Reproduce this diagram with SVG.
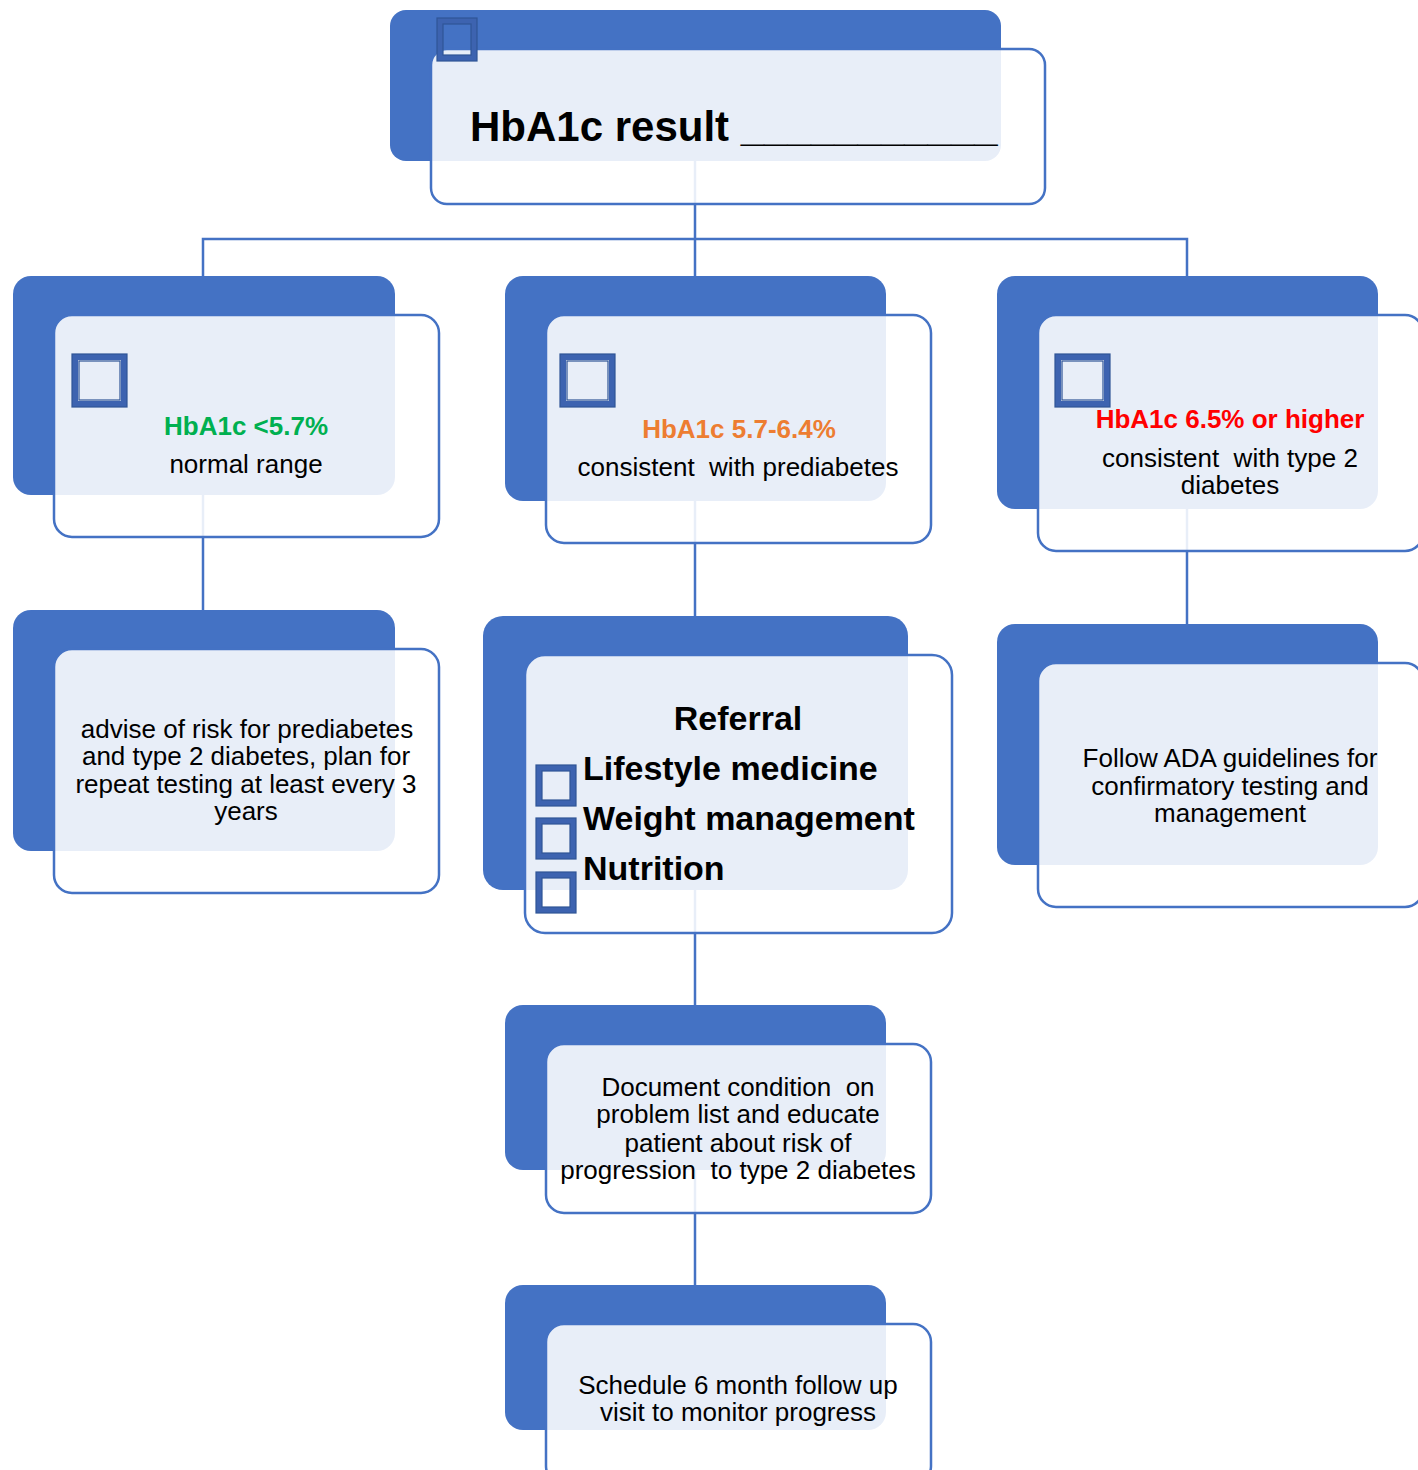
<svg xmlns="http://www.w3.org/2000/svg" width="1418" height="1470" viewBox="0 0 1418 1470">
<style>
.back{fill:#4472C4}
.front{fill:#FFFFFF;fill-opacity:0.88;stroke:#4472C4;stroke-width:2.5}
.conn{stroke:#4472C4;stroke-width:2.5;fill:none}
.cb{fill:none;stroke:#3D63B0;stroke-width:6}
.cbi{fill:none;stroke:#2F5597;stroke-width:1.2}
.t{font-family:"Liberation Sans",Arial,sans-serif;font-size:26px;fill:#000;text-anchor:middle;white-space:pre}
.b{font-weight:bold}
.big{font-family:"Liberation Sans",Arial,sans-serif;font-size:34px;font-weight:bold;fill:#000}
</style>
<rect width="1418" height="1470" fill="#FFFFFF"/>
<g id="connectors">
<path class="conn" d="M695 150V239M203 276V239H1187V276M695 239V276"/>
<path class="conn" d="M203 490V615"/>
<path class="conn" d="M695 495V620"/>
<path class="conn" d="M695 885V1010"/>
<path class="conn" d="M695 1165V1290"/>
<path class="conn" d="M1187 505V630"/>
</g>
<g id="node-top">
<rect class="back" x="390" y="10" width="611" height="151" rx="16"/>
<rect class="front" x="431" y="49" width="614" height="155" rx="16"/>
<rect class="cb" x="440" y="21" width="34" height="37"/>
<rect class="cbi" x="443" y="24" width="28" height="31"/>
<rect class="cbi" x="437" y="18" width="40" height="43"/>
<text class="t b" x="470" y="141" style="font-size:42px;text-anchor:start">HbA1c result ___________</text>
</g>
<g id="node-normal">
<rect class="back" x="13" y="276" width="382" height="219" rx="18"/>
<rect class="front" x="54" y="315" width="385" height="222" rx="18"/>
<rect class="cb" x="75" y="357" width="49" height="47"/>
<rect class="cbi" x="79" y="361" width="41" height="39"/>
<rect class="cbi" x="72" y="354" width="55" height="53"/>
<text class="t b" x="246" y="435" fill="#00B050" style="fill:#00B050">HbA1c &lt;5.7%</text>
<text class="t" x="246" y="473">normal range</text>
</g>
<g id="node-prediabetes">
<rect class="back" x="505" y="276" width="381" height="225" rx="18"/>
<rect class="front" x="546" y="315" width="385" height="228" rx="18"/>
<rect class="cb" x="563" y="357" width="49" height="47"/>
<rect class="cbi" x="567" y="361" width="41" height="39"/>
<rect class="cbi" x="560" y="354" width="55" height="53"/>
<text class="t b" x="739" y="438" style="fill:#ED7D31">HbA1c 5.7-6.4%</text>
<text class="t" x="738" y="476">consistent  with prediabetes</text>
</g>
<g id="node-diabetes">
<rect class="back" x="997" y="276" width="381" height="233" rx="18"/>
<rect class="front" x="1038" y="315" width="385" height="236" rx="18"/>
<rect class="cb" x="1058" y="357" width="49" height="47"/>
<rect class="cbi" x="1062" y="361" width="41" height="39"/>
<rect class="cbi" x="1055" y="354" width="55" height="53"/>
<text class="t b" x="1230" y="428" style="fill:#FF0000">HbA1c 6.5% or higher</text>
<text class="t" x="1230" y="467">consistent  with type 2</text>
<text class="t" x="1230" y="494">diabetes</text>
</g>
<g id="node-advise">
<rect class="back" x="13" y="610" width="382" height="241" rx="18"/>
<rect class="front" x="54" y="649" width="385" height="244" rx="18"/>
<text class="t" x="247" y="738">advise of risk for prediabetes</text>
<text class="t" x="246" y="765">and type 2 diabetes, plan for</text>
<text class="t" x="246" y="793">repeat testing at least every 3</text>
<text class="t" x="246" y="820">years</text>
</g>
<g id="node-referral">
<rect class="back" x="483" y="616" width="425" height="274" rx="20"/>
<rect class="front" x="525" y="655" width="427" height="278" rx="20"/>
<rect class="cb" x="539" y="768" width="34" height="35"/>
<rect class="cbi" x="542" y="771" width="28" height="29"/>
<rect class="cbi" x="536" y="765" width="40" height="41"/>
<rect class="cb" x="539" y="821" width="34" height="35"/>
<rect class="cbi" x="542" y="824" width="28" height="29"/>
<rect class="cbi" x="536" y="818" width="40" height="41"/>
<rect class="cb" x="539" y="875" width="34" height="35"/>
<rect class="cbi" x="542" y="878" width="28" height="29"/>
<rect class="cbi" x="536" y="872" width="40" height="41"/>
<text class="big" x="738" y="730" text-anchor="middle">Referral</text>
<text class="big" x="583" y="780">Lifestyle medicine</text>
<text class="big" x="583" y="830">Weight management</text>
<text class="big" x="583" y="880">Nutrition</text>
</g>
<g id="node-ada">
<rect class="back" x="997" y="624" width="381" height="241" rx="18"/>
<rect class="front" x="1038" y="663" width="385" height="244" rx="18"/>
<text class="t" x="1230" y="767">Follow ADA guidelines for</text>
<text class="t" x="1230" y="795">confirmatory testing and</text>
<text class="t" x="1230" y="822">management</text>
</g>
<g id="node-document">
<rect class="back" x="505" y="1005" width="381" height="165" rx="18"/>
<rect class="front" x="546" y="1044" width="385" height="169" rx="18"/>
<text class="t" x="738" y="1096">Document condition  on</text>
<text class="t" x="738" y="1123">problem list and educate</text>
<text class="t" x="738" y="1152">patient about risk of</text>
<text class="t" x="738" y="1179">progression  to type 2 diabetes</text>
</g>
<g id="node-schedule">
<rect class="back" x="505" y="1285" width="381" height="145" rx="18"/>
<rect class="front" x="546" y="1324" width="385" height="160" rx="18"/>
<text class="t" x="738" y="1394">Schedule 6 month follow up</text>
<text class="t" x="738" y="1421">visit to monitor progress</text>
</g>
</svg>
